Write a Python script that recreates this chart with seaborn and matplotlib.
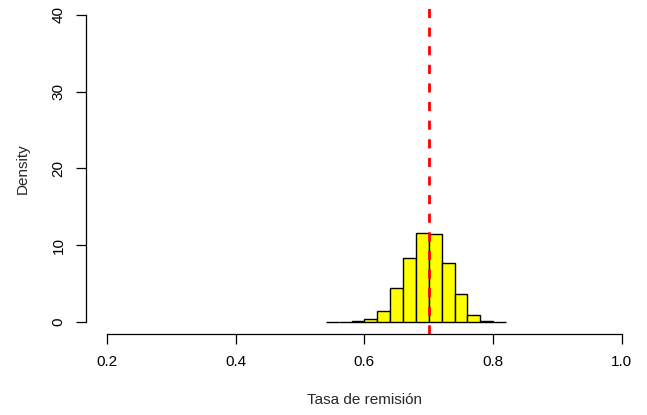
import matplotlib
matplotlib.use("Agg")
import matplotlib.pyplot as plt
import seaborn as sns
import numpy as np
import pandas as pd

# Data
bin_edges = [0.54, 0.56, 0.58, 0.60, 0.62, 0.64, 0.66, 0.68, 0.70, 0.72,
             0.74, 0.76, 0.78, 0.80, 0.82]
densities = [0.05, 0.05, 0.10, 0.40, 1.40, 4.47, 8.30, 11.60, 11.40, 7.70,
             3.65, 0.87, 0.17, 0.05]
ref_value = 0.70
x_ticks = [0.2, 0.4, 0.6, 0.8, 1.0]
y_ticks = [0, 10, 20, 30, 40]
x_label = "Tasa de remisión"
y_label = "Density"

sns.set_style("white")
plt.rcParams['font.family'] = ['Liberation Sans', 'DejaVu Sans']

fig = plt.figure(figsize=(6.47, 4.15), dpi=100)
ax = fig.add_axes([0.1335, 0.1945, 0.8595, 0.799])

centers = [(a + b) / 2 for a, b in zip(bin_edges[:-1], bin_edges[1:])]
df = pd.DataFrame({"x": centers, "w": densities})
sns.histplot(data=df, x="x", weights="w", bins=bin_edges, stat="count",
             color="#ffff00", edgecolor="black", linewidth=1.0, alpha=1,
             ax=ax)

ax.axvline(ref_value, color="#ff0000", linestyle=(0, (3.3, 3.4)), linewidth=2.0)

ax.set_xlim(0.2 - 0.032, 1.0 + 0.032)
ax.set_ylim(-1.6, 41.6)
ax.set_xticks(x_ticks)
ax.set_xticklabels([f"{t:.1f}" for t in x_ticks])
ax.set_yticks(y_ticks)
ax.set_yticklabels([str(t) for t in y_ticks], rotation=90, va="center")

for s in ["top", "right"]:
    ax.spines[s].set_visible(False)
ax.spines["left"].set_bounds(0, 40)
ax.spines["bottom"].set_bounds(0.2, 1.0)
for s in ["left", "bottom"]:
    ax.spines[s].set_color("black")
    ax.spines[s].set_linewidth(0.9)

ax.tick_params(axis="both", direction="out", length=7, width=0.9,
               color="black", labelsize=11, labelcolor="black",
               left=True, bottom=True)
ax.tick_params(axis="x", pad=8)
ax.tick_params(axis="y", pad=8)

ax.set_xlabel(x_label, fontsize=11, labelpad=17)
ax.set_ylabel(y_label, fontsize=11, labelpad=16)

fig.savefig("out.png", dpi=100)
